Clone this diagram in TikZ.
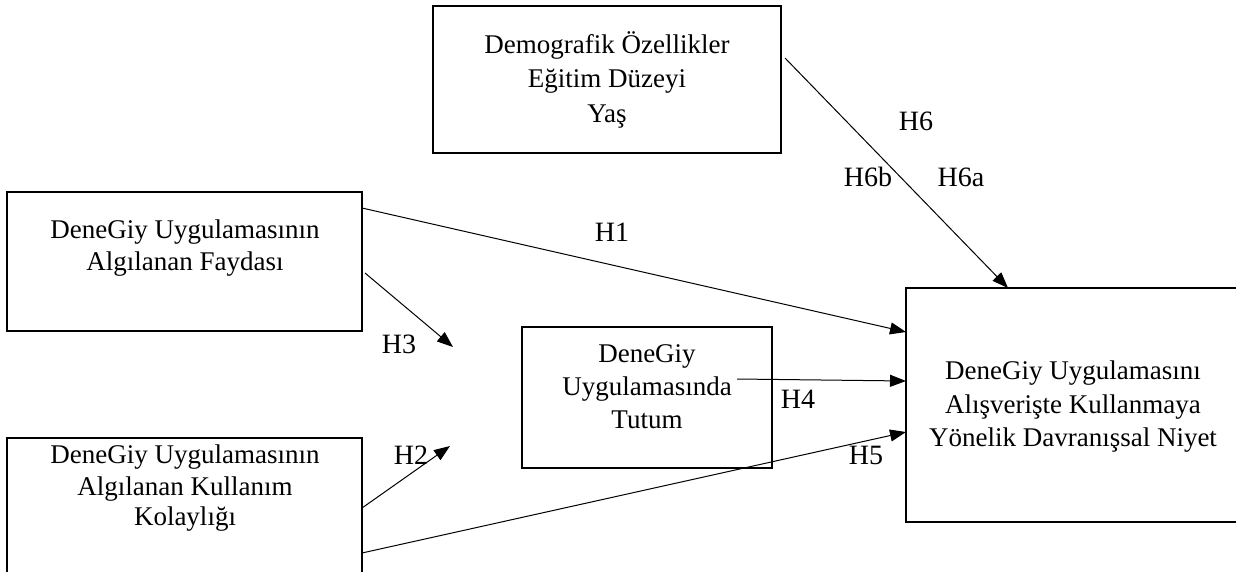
\documentclass[tikz,border=0pt]{standalone}
\usepackage{fontspec}
\setmainfont{Liberation Serif}
\usetikzlibrary{arrows.meta,calc}
\begin{document}
\begin{tikzpicture}[x=1pt,y=-1pt,
  box/.style={draw, line width=1.6pt, inner sep=0pt, outer sep=0pt},
  txt/.style={font=\fontsize{27}{32}\selectfont, inner sep=0pt, anchor=base},
  lbl/.style={font=\fontsize{28}{32}\selectfont, inner sep=0pt, anchor=base},
  arr/.style={line width=1pt, -{Triangle[length=16pt,width=12pt]}}]
\useasboundingbox (0,0) rectangle (1236,571);
% boxes
\node[box, minimum width=348pt, minimum height=147pt] (demo) at (607,79.5) {};
\node[box, minimum width=355pt, minimum height=139pt] (b1) at (184.5,261.5) {};
\node[box, minimum width=355pt, minimum height=137pt] (b2) at (184.5,506.5) {};
\node[box, minimum width=250pt, minimum height=141pt] (mid) at (647,397.5) {};
\node[box, minimum width=334pt, minimum height=234pt] (rb) at (1073,405) {};
% texts
\node[txt] (d1) at (607,53) {Demografik Özellikler};
\node[txt] (d2) at (607,87) {Eğitim Düzeyi};
\node[txt] (d3) at (607,122) {Yaş};
\node[txt] (f1) at (185,238) {DeneGiy Uygulamasının};
\node[txt] (f2) at (185,270) {Algılanan Faydası};
\node[txt] (k1) at (185,463) {DeneGiy Uygulamasının};
\node[txt] (k2) at (185,495) {Algılanan Kullanım};
\node[txt] (k3) at (185,525) {Kolaylığı};
\node[txt] (m1) at (647,362) {DeneGiy};
\node[txt] (m2) at (647,395) {Uygulamasında};
\node[txt] (m3) at (647,428) {Tutum};
\node[txt] (r1) at (1073,379) {DeneGiy Uygulamasını};
\node[txt] (r2) at (1073,413) {Alışverişte Kullanmaya};
\node[txt] (r3) at (1073,446) {Yönelik Davranışsal Niyet};
% free ends
\coordinate (h3e) at (453,347);
\coordinate (h2e) at (450,446);
% connectors
\draw[arr] ($(b1.north east)+(0,16)$) -- ($(rb.north west)+(0,44)$);
\draw[arr] ($(b1.north east)+(3,81)$) -- (h3e);
\draw[arr] ($(b2.north east)+(0,70)$) -- (h2e);
\draw[arr] ($(mid.north east)+(-35,52)$) -- ($(rb.north west)+(0,93)$);
\draw[arr] ($(b2.north east)+(0,115)$) -- ($(rb.north west)+(0,144)$);
\draw[arr] ($(demo.north east)+(4,52)$) -- ($(rb.north west)+(102,0)$);
% labels
\node[lbl] (lh1) at (612,241) {H1};
\node[lbl] (lh3) at (399,353) {H3};
\node[lbl] (lh2) at (411,464) {H2};
\node[lbl] (lh4) at (798,408) {H4};
\node[lbl] (lh5) at (866,464) {H5};
\node[lbl] (lh6) at (916,130) {H6};
\node[lbl] (lh6b) at (868,186) {H6b};
\node[lbl] (lh6a) at (961,186) {H6a};
\end{tikzpicture}
\end{document}
